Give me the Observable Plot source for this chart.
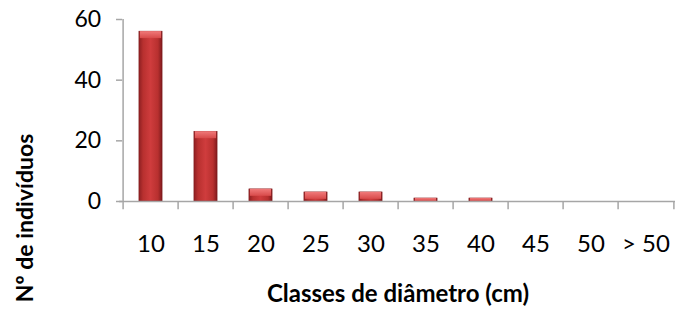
<!DOCTYPE html>
<html>
<head>
<meta charset="utf-8">
<script src="https://cdn.jsdelivr.net/npm/d3@7"></script>
<script src="https://cdn.jsdelivr.net/npm/@observablehq/plot@0.6"></script>
<style>
  html, body { margin: 0; padding: 0; background: #fff; }
  #chart { width: 675px; height: 310px; }
</style>
</head>
<body>
<div id="chart"></div>
<script>
const categories = ["10", "15", "20", "25", "30", "35", "40", "45", "50", "> 50"];
const counts = [56, 23, 4, 3, 3, 1, 1, 0, 0, 0];
const yTicks = [0, 20, 40, 60];
const xTitle = "Classes de diâmetro (cm)";
const yTitle = "Nº de indivíduos";

const data = categories.map((c, i) => ({cat: c, n: counts[i]}));

const W = 675, H = 310;
const mL = 119, mR = -2, mT = 19, mB = 109;
const bw = (W - mL - mR) / categories.length;
const barW = 24;
const inset = (bw - barW) / 2;
const font = "Lato, 'Open Sans', sans-serif";
const axisColor = "#a6a6a6";

const defs = () => {
  const d = d3.create("svg:defs");
  const g = d.append("linearGradient").attr("id", "barGrad").attr("x1", "0").attr("x2", "1").attr("y1", "0").attr("y2", "0");
  g.append("stop").attr("offset", "0%").attr("stop-color", "#8e1f22");
  g.append("stop").attr("offset", "18%").attr("stop-color", "#b8302f");
  g.append("stop").attr("offset", "50%").attr("stop-color", "#cf3c3d");
  g.append("stop").attr("offset", "82%").attr("stop-color", "#b8302f");
  g.append("stop").attr("offset", "100%").attr("stop-color", "#7f1a1d");
  const t = d.append("linearGradient").attr("id", "topGrad").attr("x1", "0").attr("x2", "0").attr("y1", "0").attr("y2", "1");
  t.append("stop").attr("offset", "0%").attr("stop-color", "#f07a7a");
  t.append("stop").attr("offset", "100%").attr("stop-color", "#d84a4a");
  return d.node();
};

const plot = Plot.plot({
  width: W,
  height: H,
  marginLeft: mL,
  marginRight: mR,
  marginTop: mT,
  marginBottom: mB,
  style: {fontFamily: font, background: "#fff", overflow: "visible"},
  x: {domain: categories, padding: 0, axis: null},
  y: {domain: [0, 60], axis: null},
  marks: [
    defs,
    // bars
    Plot.barY(data.filter(d => d.n > 0), {
      x: "cat", y: "n", fill: "url(#barGrad)",
      insetLeft: inset, insetRight: inset,
      stroke: "#7a1719", strokeWidth: 0.5
    }),
    // bevelled top
    Plot.rectY(data.filter(d => d.n > 0), {
      x: "cat", y1: "n", y2: d => Math.max(0, d.n - 2.3),
      fill: "url(#topGrad)", insetLeft: inset + 1, insetRight: inset + 1
    }),
    // y axis line
    Plot.ruleX([categories[0]], {x: d => d, dx: -bw / 2, y1: 0, y2: 60, stroke: axisColor, strokeWidth: 1.5}),
    // y ticks (short, left of the axis)
    Plot.tickY(yTicks, {y: d => d, x: () => categories[0], insetLeft: -7, insetRight: bw,
      stroke: axisColor, strokeWidth: 1.5}),
    Plot.text(yTicks, {x: () => categories[0], y: d => d, dx: -bw / 2 - 22, text: d => String(d),
      textAnchor: "end", fontSize: 23, fill: "#000"}),
    // x axis line
    Plot.ruleY([0], {stroke: axisColor, strokeWidth: 1.5}),
    // category boundary ticks
    Plot.ruleX(categories, {x: d => d, dx: -bw / 2, y1: 0, y2: -2.7, stroke: axisColor, strokeWidth: 1.5}),
    Plot.ruleX([categories[categories.length - 1]], {x: d => d, dx: bw / 2, y1: 0, y2: -2.7, stroke: axisColor, strokeWidth: 1.5}),
    // category labels
    Plot.text(categories, {x: d => d, y: 0, dy: 43, text: d => d, fontSize: 24, fill: "#000"}),
  ]
});

const svg = d3.select(plot);
// x title
svg.append("text")
  .attr("x", 398)
  .attr("y", 302)
  .attr("text-anchor", "middle")
  .attr("font-family", font)
  .attr("font-size", 24)
  .attr("font-weight", "bold")
  .attr("fill", "#000")
  .text(xTitle);
// y title (rotated)
svg.append("text")
  .attr("transform", `translate(33, 218) rotate(-90)`)
  .attr("text-anchor", "middle")
  .attr("font-family", font)
  .attr("font-size", 23)
  .attr("font-weight", "bold")
  .attr("fill", "#000")
  .text(yTitle);

document.getElementById("chart").appendChild(plot);
</script>
</body>
</html>
